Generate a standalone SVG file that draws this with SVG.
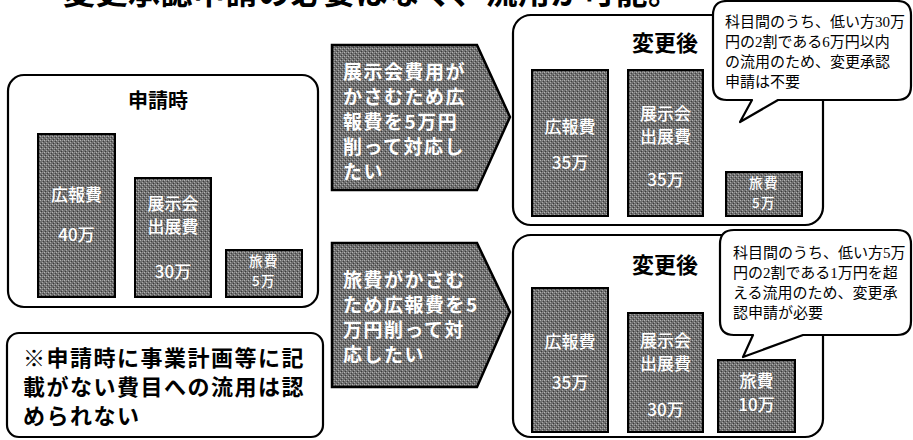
<svg xmlns="http://www.w3.org/2000/svg" width="913" height="440" viewBox="0 0 913 440">
<defs>
<pattern id="stip" width="4" height="4" patternUnits="userSpaceOnUse">
<rect width="4" height="4" fill="#6f6f6f"/>
<rect x="0" y="0" width="1" height="1" fill="#b4b4b4"/>
<rect x="2" y="2" width="1" height="1" fill="#a8a8a8"/>
<rect x="1" y="3" width="1" height="1" fill="#3a3a3a"/>
<rect x="3" y="1" width="1" height="1" fill="#404040"/>
<rect x="2" y="0" width="1" height="1" fill="#959595"/>
</pattern>
<style>
.box{fill:#fff;stroke:#000;stroke-width:2.2}
.bar{fill:url(#stip);stroke:#000;stroke-width:2}
.bt{font-family:"Noto Sans CJK JP","Liberation Sans",sans-serif;font-size:17px;fill:#fff;text-anchor:middle;font-weight:500}
.bt2{font-family:"Noto Sans CJK JP","Liberation Sans",sans-serif;font-size:13.5px;fill:#fff;text-anchor:middle;font-weight:500;letter-spacing:1.5px}
.hd{font-family:"Noto Sans CJK JP",sans-serif;font-weight:bold;fill:#000;text-anchor:middle}
.arr{fill:url(#stip);stroke:#000;stroke-width:2.5}
.at{font-family:"Noto Sans CJK JP","Liberation Sans",sans-serif;font-weight:bold;font-size:19px;fill:#fff;letter-spacing:1.5px}
.co{fill:#fff;stroke:#000;stroke-width:2.2;stroke-linejoin:round}
.ct{font-family:"Liberation Serif","Noto Sans CJK JP",serif;font-size:15px;fill:#000}
.nt{font-family:"Noto Sans CJK JP",sans-serif;font-weight:bold;font-size:22px;fill:#000;letter-spacing:1.5px}
</style>
</defs>
<rect width="913" height="440" fill="#fff"/>

<text id="title" x="63" y="4" font-family="Noto Sans CJK JP, sans-serif" font-weight="bold" font-size="32" textLength="617" fill="#000">変更承認申請の必要はなく、流用が可能。</text>

<g id="apply">
<rect class="box" x="8" y="75" width="310" height="232" rx="16"/>
<text class="hd" x="158" y="108" font-size="20">申請時</text>
<rect class="bar" x="38" y="134" width="77" height="163"/>
<text class="bt"><tspan x="76.5" y="201">広報費</tspan><tspan x="76.5" y="241">40万</tspan></text>
<rect class="bar" x="135" y="178" width="76" height="119"/>
<text class="bt"><tspan x="173" y="210">展示会</tspan><tspan x="173" y="233">出展費</tspan><tspan x="173" y="278">30万</tspan></text>
<rect class="bar" x="226" y="250" width="76" height="47"/>
<text class="bt2"><tspan x="264" y="266">旅費</tspan><tspan x="264" y="286">5万</tspan></text>
</g>

<g id="note">
<rect class="box" x="7" y="333" width="316" height="104" rx="12"/>
<text class="nt"><tspan x="23" y="366">※申請時に事業計画等に記</tspan><tspan x="23" y="395">載がない費目への流用は認</tspan><tspan x="23" y="424">められない</tspan></text>
</g>

<g id="connectors">
<g id="arrow1">
<polygon class="arr" points="332,45 477,45 510,117 477,190 332,190"/>
<text class="at"><tspan x="343" y="79">展示会費用が</tspan><tspan x="343" y="104">かさむため広</tspan><tspan x="343" y="129">報費を5万円</tspan><tspan x="343" y="154">削って対応し</tspan><tspan x="343" y="179">たい</tspan></text>
</g>
<g id="arrow2">
<polygon class="arr" points="332,243 477,243 510,312 477,387 332,387"/>
<text class="at"><tspan x="343" y="287">旅費がかさむ</tspan><tspan x="343" y="312">ため広報費を5</tspan><tspan x="343" y="337">万円削って対</tspan><tspan x="343" y="362">応したい</tspan></text>
</g>
</g>

<g id="after1">
<rect class="box" x="513" y="15" width="310" height="210" rx="18"/>
<text class="hd" x="665" y="51" font-size="22">変更後</text>
<rect class="bar" x="532" y="70" width="76" height="146"/>
<text class="bt"><tspan x="570" y="133">広報費</tspan><tspan x="570" y="169">35万</tspan></text>
<rect class="bar" x="628" y="70" width="75" height="146"/>
<text class="bt"><tspan x="665.5" y="120">展示会</tspan><tspan x="665.5" y="143">出展費</tspan><tspan x="665.5" y="186">35万</tspan></text>
<rect class="bar" x="726" y="172" width="76" height="44"/>
<text class="bt2"><tspan x="764" y="188">旅費</tspan><tspan x="764" y="208">5万</tspan></text>
</g>

<g id="callout1">
<path class="co" d="M727,1 H897 Q911,1 911,15 V86 Q911,100 897,100 H778 L740,122 L752,100 H727 Q713,100 713,86 V15 Q713,1 727,1 Z"/>
<text class="ct"><tspan x="725" y="27">科目間のうち、低い方30万</tspan><tspan x="725" y="47">円の2割である6万円以内</tspan><tspan x="725" y="67">の流用のため、変更承認</tspan><tspan x="725" y="87">申請は不要</tspan></text>
</g>

<g id="after2">
<rect class="box" x="513" y="235" width="310" height="202" rx="18"/>
<text class="hd" x="665" y="273" font-size="22">変更後</text>
<rect class="bar" x="532" y="288" width="76" height="144"/>
<text class="bt"><tspan x="570" y="348">広報費</tspan><tspan x="570" y="389">35万</tspan></text>
<rect class="bar" x="628" y="313" width="75" height="119"/>
<text class="bt"><tspan x="665.5" y="347">展示会</tspan><tspan x="665.5" y="370">出展費</tspan><tspan x="665.5" y="416">30万</tspan></text>
<rect class="bar" x="718" y="360" width="77" height="72"/>
<text class="bt"><tspan x="756.5" y="387">旅費</tspan><tspan x="756.5" y="411">10万</tspan></text>
</g>

<g id="callout2">
<path class="co" d="M734,230 H897 Q911,230 911,244 V321 Q911,335 897,335 H803 L743,357 L753,335 H734 Q720,335 720,321 V244 Q720,230 734,230 Z"/>
<text class="ct"><tspan x="733" y="258">科目間のうち、低い方5万</tspan><tspan x="733" y="278">円の2割である1万円を超</tspan><tspan x="733" y="298">える流用のため、変更承</tspan><tspan x="733" y="318">認申請が必要</tspan></text>
</g>
</svg>
